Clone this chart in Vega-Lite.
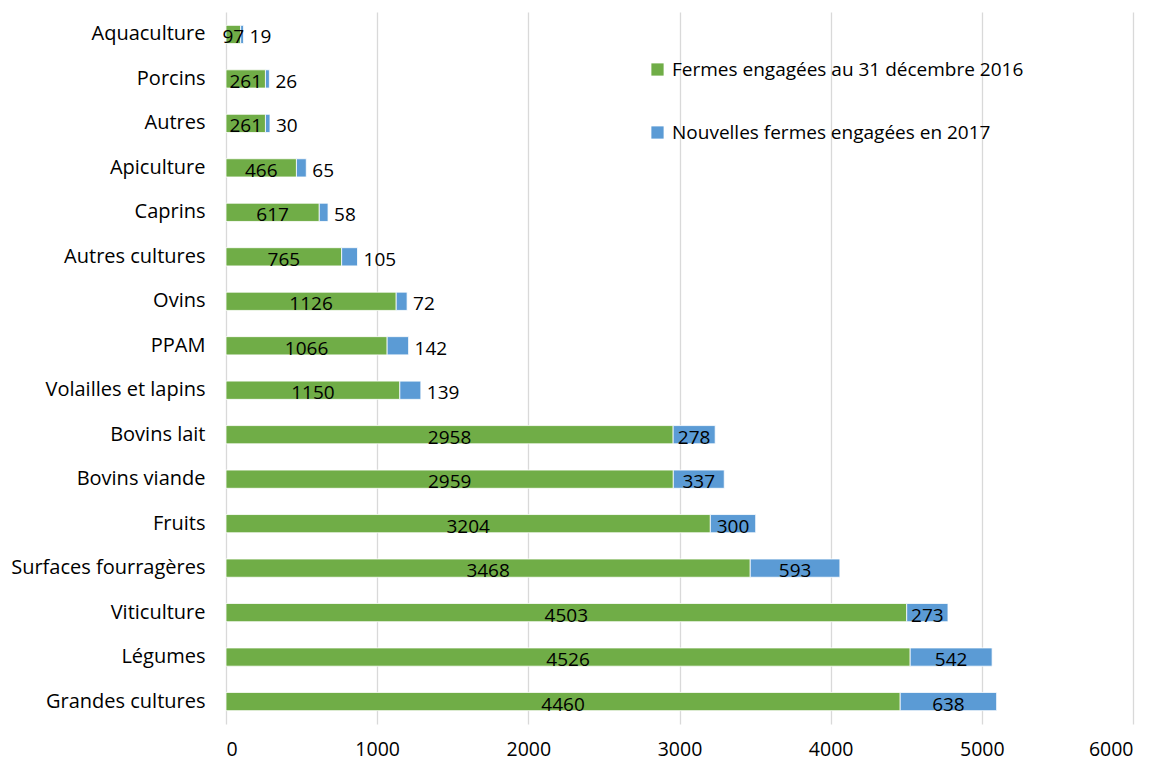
{
  "$schema": "https://vega.github.io/schema/vega-lite/v6.json",
  "autosize": {"type": "none"},
  "width": 907,
  "height": 712,
  "padding": {"left": 226, "top": 12, "right": 29, "bottom": 38},
  "background": "white",
  "config": {
    "font": "Open Sans",
    "view": {"stroke": null},
    "axis": {"labelFont": "Open Sans", "labelColor": "#000000"},
    "legend": {"labelFont": "Open Sans", "labelFontSize": 19, "labelColor": "#000000", "labelLimit": 500}
  },
  "data": {
    "values": [
      {"categorie": "Aquaculture", "v2016": 97, "v2017": 19},
      {"categorie": "Porcins", "v2016": 261, "v2017": 26},
      {"categorie": "Autres", "v2016": 261, "v2017": 30},
      {"categorie": "Apiculture", "v2016": 466, "v2017": 65},
      {"categorie": "Caprins", "v2016": 617, "v2017": 58},
      {"categorie": "Autres cultures", "v2016": 765, "v2017": 105},
      {"categorie": "Ovins", "v2016": 1126, "v2017": 72},
      {"categorie": "PPAM", "v2016": 1066, "v2017": 142},
      {"categorie": "Volailles et lapins", "v2016": 1150, "v2017": 139},
      {"categorie": "Bovins lait", "v2016": 2958, "v2017": 278},
      {"categorie": "Bovins viande", "v2016": 2959, "v2017": 337},
      {"categorie": "Fruits", "v2016": 3204, "v2017": 300},
      {"categorie": "Surfaces fourragères", "v2016": 3468, "v2017": 593},
      {"categorie": "Viticulture", "v2016": 4503, "v2017": 273},
      {"categorie": "Légumes", "v2016": 4526, "v2017": 542},
      {"categorie": "Grandes cultures", "v2016": 4460, "v2017": 638}
    ]
  },
  "transform": [
    {"calculate": "datum.v2016 + datum.v2017", "as": "total"},
    {"calculate": "datum.v2016 / 2", "as": "mid2016"},
    {"calculate": "datum.v2016 + datum.v2017 / 2", "as": "mid2017"}
  ],
  "encoding": {
    "y": {
      "field": "categorie",
      "type": "nominal",
      "sort": null,
      "title": null,
      "scale": {"paddingInner": 0.59, "paddingOuter": 0.3},
      "axis": {"ticks": false, "domain": false, "labelPadding": 21, "labelFontSize": 20, "labelLimit": 400, "grid": false}
    }
  },
  "layer": [
    {
      "mark": {"type": "bar", "stroke": "white", "strokeWidth": 0.8},
      "encoding": {
        "x": {
          "field": "v2016",
          "type": "quantitative",
          "title": null,
          "scale": {"domain": [0, 6000], "nice": false},
          "axis": {
            "values": [0, 1000, 2000, 3000, 4000, 5000, 6000],
            "format": "d",
            "domain": false,
            "ticks": false,
            "labelPadding": 16,
            "labelFontSize": 19.5,
            "grid": true,
            "gridColor": "#d9d9d9",
            "gridWidth": 1.3
          }
        },
        "x2": {"datum": 0},
        "color": {
          "datum": "Fermes engagées au 31 décembre 2016",
          "scale": {
            "domain": ["Fermes engagées au 31 décembre 2016", "Nouvelles fermes engagées en 2017"],
            "range": ["#70AD47", "#5B9BD5"]
          },
          "legend": {
            "title": null,
            "orient": "none",
            "legendX": 422,
            "legendY": 48,
            "symbolType": "square",
            "symbolSize": 150,
            "symbolStrokeWidth": 0,
            "rowPadding": 43,
            "labelOffset": 5,
            "symbolOffset": 0
          }
        }
      }
    },
    {
      "mark": {"type": "bar", "stroke": "white", "strokeWidth": 0.8},
      "encoding": {
        "x": {"field": "v2016", "type": "quantitative"},
        "x2": {"field": "total"},
        "color": {"datum": "Nouvelles fermes engagées en 2017"}
      }
    },
    {
      "mark": {"type": "text", "fontSize": 19, "color": "#000000", "baseline": "middle", "dy": 3},
      "encoding": {
        "x": {"field": "mid2016", "type": "quantitative"},
        "text": {"field": "v2016", "type": "quantitative", "format": "d"}
      }
    },
    {
      "transform": [{"filter": "datum.v2017 >= 250"}],
      "mark": {"type": "text", "fontSize": 19, "color": "#000000", "baseline": "middle", "dy": 3},
      "encoding": {
        "x": {"field": "mid2017", "type": "quantitative"},
        "text": {"field": "v2017", "type": "quantitative", "format": "d"}
      }
    },
    {
      "transform": [{"filter": "datum.v2017 < 250"}],
      "mark": {"type": "text", "fontSize": 19, "color": "#000000", "baseline": "middle", "align": "left", "dx": 6, "dy": 3},
      "encoding": {
        "x": {"field": "total", "type": "quantitative"},
        "text": {"field": "v2017", "type": "quantitative", "format": "d"}
      }
    }
  ]
}
